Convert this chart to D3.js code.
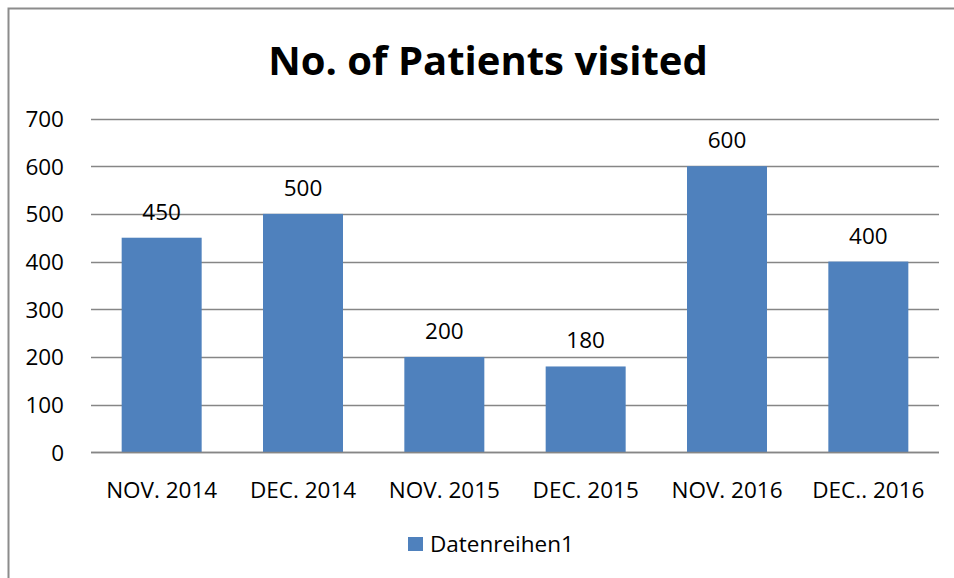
<!DOCTYPE html>
<html>
<head>
<meta charset="utf-8">
<script src="https://cdn.jsdelivr.net/npm/d3@7"></script>
<style>
	body { margin: 0; background: #fff; }
	svg text { font-family: "Open Sans", Lato, sans-serif; fill: #000; }
</style>
</head>
<body>
<div id="container"></div>
<script>
var categories = ['NOV. 2014', 'DEC. 2014', 'NOV. 2015', 'DEC. 2015', 'NOV. 2016', 'DEC.. 2016'];
var patients = [450, 500, 200, 180, 600, 400];
var yTicks = [0, 100, 200, 300, 400, 500, 600, 700];
var seriesName = 'Datenreihen1';
var title = 'No. of Patients visited';

var width = 954,
	height = 578;

var margin = { top: 118.5, right: 15, bottom: 125.7, left: 91 },
	fontSize = 22.5;

var canvas = d3.select('#container').append('svg')
	.attr('width', width)
	.attr('height', height);

// outer frame (cut off on right/bottom)
canvas.append('path')
	.attr('d', 'M8.5,' + height + 'V8.5H' + width)
	.attr('fill', 'none')
	.attr('stroke', '#8c8c8c')
	.attr('stroke-width', 2);

var xScale = d3.scaleBand()
	.domain(categories)
	.range([margin.left, width - margin.right])
	.paddingInner(0.434)
	.paddingOuter(0.217);

var yScale = d3.scaleLinear()
	.domain([0, 700])
	.range([height - margin.bottom, margin.top]);

// gridlines
canvas.append('g')
	.selectAll('line')
	.data(yTicks)
	.enter()
		.append('line')
		.attr('x1', margin.left)
		.attr('x2', width - margin.right)
		.attr('y1', (d) => Math.round(yScale(d)) + 0.5)
		.attr('y2', (d) => Math.round(yScale(d)) + 0.5)
		.attr('stroke', '#868686')
		.attr('stroke-width', 1.3);

// y labels
var yAxis = canvas.append('g')
	.attr('transform', 'translate(' + (margin.left - 27) + ',0)')
	.call(d3.axisLeft(yScale).tickValues(yTicks).tickSize(0).tickPadding(0));
yAxis.select('.domain').remove();
yAxis.selectAll('text')
	.attr('font-size', fontSize)
	.attr('dy', '0.35em');

// bars
canvas.append('g')
	.selectAll('rect')
	.data(patients)
	.enter()
		.append('rect')
		.attr('x', (d, i) => xScale(categories[i]))
		.attr('width', xScale.bandwidth())
		.attr('y', (d) => yScale(d))
		.attr('height', (d) => yScale(0) - yScale(d))
		.attr('fill', '#4f81bd');

// baseline on top of bars
canvas.append('line')
	.attr('x1', margin.left)
	.attr('x2', width - margin.right)
	.attr('y1', Math.round(yScale(0)) + 0.5)
	.attr('y2', Math.round(yScale(0)) + 0.5)
	.attr('stroke', '#868686')
	.attr('stroke-width', 1.3);

// value labels
canvas.append('g')
	.selectAll('text')
	.data(patients)
	.enter()
		.append('text')
		.attr('x', (d, i) => xScale(categories[i]) + xScale.bandwidth() / 2)
		.attr('y', (d) => yScale(d) - 18)
		.attr('text-anchor', 'middle')
		.attr('font-size', fontSize)
		.text((d) => d);

// x labels
var xAxis = canvas.append('g')
	.attr('transform', 'translate(0,' + yScale(0) + ')')
	.call(d3.axisBottom(xScale).tickSize(0).tickPadding(0));
xAxis.select('.domain').remove();
xAxis.selectAll('text')
	.attr('font-size', fontSize)
	.attr('dy', null)
	.attr('y', 46);

// title
canvas.append('text')
	.attr('x', 488)
	.attr('y', 75)
	.attr('text-anchor', 'middle')
	.attr('font-size', 40)
	.attr('font-weight', 'bold')
	.text(title);

// legend
var legend = canvas.append('g');
legend.append('rect')
	.attr('x', 408)
	.attr('y', 537)
	.attr('width', 15)
	.attr('height', 14)
	.attr('fill', '#4f81bd');
legend.append('text')
	.attr('x', 430)
	.attr('y', 552)
	.attr('font-size', fontSize)
	.text(seriesName);
</script>
</body>
</html>
